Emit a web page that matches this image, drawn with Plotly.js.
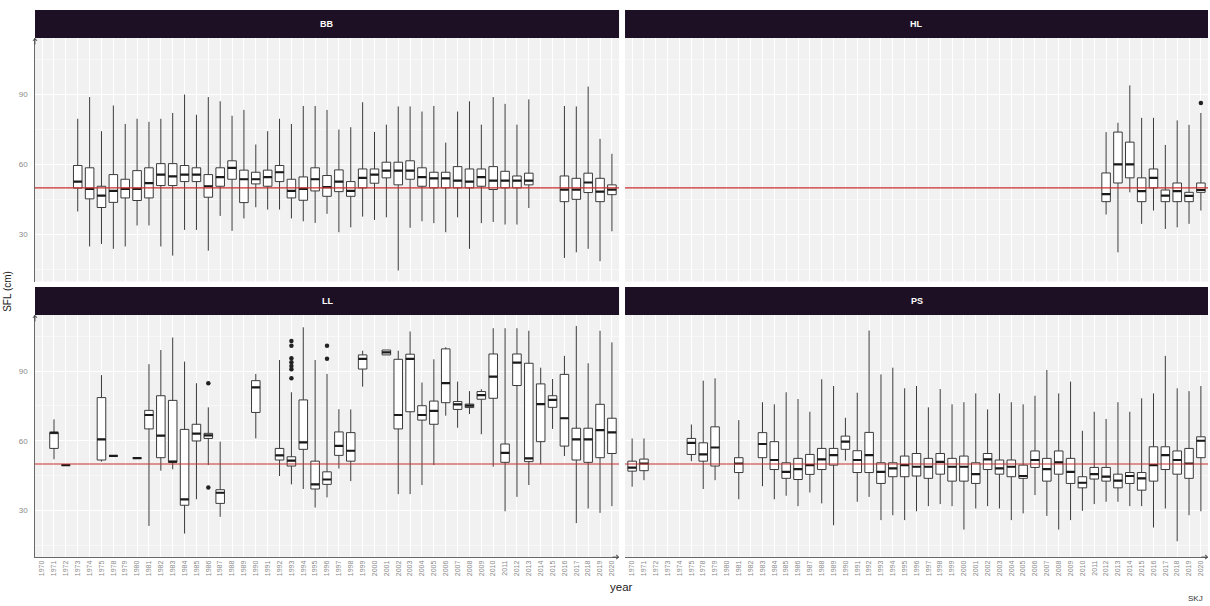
<!DOCTYPE html>
<html><head><meta charset="utf-8">
<script src="https://cdn.plot.ly/plotly-3.0.1.min.js"></script>
<style>html,body{margin:0;padding:0;background:#fff}#chart{width:1210px;height:606px}</style>
</head><body><div id="chart"></div>
<script>
// ---- categories ----
const allYears = [1970,1971,1972,1973,1974,1975,1978,1979,1980,1981,1982,1983,1984,1985,1986,1987,1988,1989,1990,
  1991,1992,1993,1994,1995,1996,1997,1998,1999,2000,2001,2002,2003,2004,2005,2006,2007,2008,2009,2010,
  2011,2012,2013,2014,2015,2016,2017,2018,2019,2020];
const refLine = 50;
const panelNames = ['BB','HL','LL','PS'];

// ---- BB ----
const bbYears = [1973,1974,1975,1978,1979,1980,1981,1982,1983,1984,1985,1986,1987,1988,1989,1990,1991,1992,1993,1994,1995,
  1996,1997,1998,1999,2000,2001,2002,2003,2004,2005,2006,2007,2008,2009,2010,2011,2012,2013,2016,2017,2018,2019,2020];
const bbUpper = [79.6,88.9,74.3,85.3,77.4,79.6,78.3,79.6,82.1,90.0,81.3,88.9,87.1,80.9,83.4,68.6,74.3,79.6,77.4,85.1,85.1,
  83.4,75.0,76.0,86.7,74.0,77.1,84.9,84.9,82.7,85.1,69.4,82.7,87.1,77.1,88.9,86.0,77.1,87.9,85.1,84.9,93.4,71.0,64.6];
const bbQ3 = [59.6,58.6,50.7,55.7,53.7,57.4,58.6,60.4,60.4,59.6,58.6,55.7,58.6,61.6,57.6,56.7,57.6,59.6,53.7,54.7,58.6,
  55.3,57.7,52.7,58.1,58.1,61.0,61.0,61.6,58.6,56.7,56.7,59.1,58.1,58.1,59.1,57.1,55.1,56.3,55.1,54.1,56.3,54.1,51.3];
const bbMedian = [52.7,49.6,46.7,48.7,49.6,49.6,52.0,55.7,54.9,55.7,55.7,50.7,54.6,58.6,53.7,53.7,54.6,56.7,48.7,49.6,53.7,
  50.3,52.7,48.7,54.3,55.7,57.4,57.4,57.4,54.6,54.1,54.1,53.1,52.7,54.6,53.1,53.1,53.1,53.1,49.3,49.3,52.3,48.4,49.3];
const bbQ1 = [49.9,45.3,41.6,43.8,45.7,44.6,45.7,51.0,51.0,52.7,52.7,46.0,50.7,53.7,43.7,51.7,50.7,52.7,45.7,44.7,48.7,
  46.4,48.4,46.4,50.0,52.0,54.3,51.3,53.7,50.7,50.0,50.0,50.0,50.0,50.7,49.3,50.0,50.0,51.3,44.1,45.1,48.0,44.1,47.1];
const bbLower = [39.9,24.9,26.0,23.9,24.9,33.9,33.9,24.9,21.0,32.0,32.0,23.1,38.0,31.6,36.9,41.7,40.7,40.7,36.9,35.7,35.0,
  38.9,31.0,33.1,37.7,36.3,37.4,14.6,32.9,35.7,34.9,31.0,37.4,23.9,34.9,35.4,34.3,34.3,41.4,20.0,22.4,23.9,18.6,31.4];
const bbOutYears = [];
const bbOutValues = [];

// ---- HL ----
const hlYears = [2012,2013,2014,2015,2016,2017,2018,2019,2020];
const hlUpper = [73.9,77.9,93.9,80.0,80.0,68.4,78.9,77.0,82.1];
const hlQ3 = [56.4,73.9,69.6,54.3,58.1,49.1,52.1,48.1,52.1];
const hlMedian = [47.3,60.1,60.1,48.6,54.3,46.7,48.6,46.6,49.1];
const hlQ1 = [44.1,52.1,54.3,44.1,50.0,44.1,44.1,44.1,48.1];
const hlLower = [38.6,22.4,48.1,34.6,40.3,32.4,33.1,34.6,40.3];
const hlOutYears = [2020];
const hlOutValues = [86.4];

// ---- LL ----
const llYears = [1971,1972,1975,1978,1980,1981,1982,1983,1984,1985,1986,1987,1990,1992,1993,1994,1995,1996,1997,1998,1999,
  2001,2002,2003,2004,2005,2006,2007,2008,2009,2010,2011,2012,2013,2014,2015,2016,2017,2018,2019,2020];
const llUpper = [69.2,49.5,88.3,53.5,52.5,93.0,99.1,104.5,94.1,84.8,74.4,59.6,88.8,94.8,80.9,108.9,94.8,88.8,73.6,73.5,98.8,
  99.1,98.8,107.1,85.1,95.1,100.3,85.5,81.4,82.2,108.5,108.5,108.5,107.4,91.5,86.6,96.6,109.5,93.4,107.4,102.4];
const llQ3 = [63.5,49.5,78.6,53.5,52.5,73.1,79.4,77.4,64.9,67.1,63.2,38.9,85.9,56.7,53.1,77.6,51.2,46.6,63.8,63.5,97.0,
  99.1,95.1,97.3,75.1,77.1,99.6,76.9,75.8,81.2,97.4,58.6,97.4,93.4,84.5,79.4,88.6,65.4,65.4,75.7,69.7];
const llMedian = [63.5,49.5,60.6,53.5,52.5,71.1,62.2,51.0,34.7,63.1,62.3,37.6,83.0,53.7,51.4,59.3,41.2,43.3,57.8,55.7,95.3,
  98.1,71.1,95.3,71.1,72.9,84.8,75.7,75.1,79.7,87.6,54.8,93.7,52.4,75.8,77.6,69.7,60.6,60.6,64.6,63.6];
const llQ1 = [56.7,49.5,51.7,53.5,52.5,65.1,52.7,50.7,32.2,59.9,61.0,33.0,72.2,51.7,49.1,56.3,39.2,41.2,53.7,51.2,90.9,
  97.0,65.1,72.5,68.9,67.1,76.4,73.5,74.3,77.9,78.3,50.7,83.8,51.0,59.6,74.4,57.7,51.7,50.7,52.7,54.5];
const llLower = [52.0,49.5,51.0,53.5,52.5,23.3,47.1,47.7,20.0,34.8,49.5,27.2,61.0,44.8,41.2,39.2,31.2,35.6,48.0,42.6,83.3,
  97.0,37.0,37.0,40.9,49.5,70.8,65.6,71.5,62.8,48.8,29.6,35.8,40.9,49.8,65.1,53.4,24.5,30.8,28.9,31.8];
const llOutYears = [1986,1986,1993,1993,1993,1993,1993,1993,1993,1996,1996];
const llOutValues = [84.8,39.9,103.0,100.9,95.6,93.8,92.2,90.8,86.9,100.9,95.3];

// ---- PS ----
const psYears = [1970,1971,1975,1978,1979,1981,1983,1984,1985,1986,1987,1988,1989,1990,1991,1992,1993,1994,1995,
  1996,1997,1998,1999,2000,2001,2002,2003,2004,2005,2006,2007,2008,2009,2010,2011,2012,2013,2014,2015,2016,2017,2018,2019,2020];
const psUpper = [61.0,61.0,67.0,85.9,86.9,68.9,76.6,75.7,80.9,78.0,72.5,86.5,83.6,69.9,80.7,107.5,88.6,91.5,82.6,
  83.6,74.4,82.3,75.7,76.6,80.4,73.5,80.4,76.6,75.7,79.4,90.5,80.4,85.5,64.3,72.5,69.4,76.6,72.5,78.3,80.4,96.6,82.6,81.4,83.6];
const psQ3 = [51.2,52.1,61.0,59.1,66.0,52.7,63.5,59.6,50.5,52.4,54.1,56.7,56.7,62.0,55.7,63.6,50.5,50.5,53.4,
  54.5,52.4,54.5,52.4,53.4,50.5,54.5,51.7,51.7,49.5,55.6,52.4,55.6,52.4,44.5,48.5,48.5,45.6,46.3,46.3,57.4,57.4,55.6,56.7,61.7];
const psMedian = [48.4,50.2,59.1,54.1,57.1,50.2,58.6,51.7,46.6,47.8,49.5,52.0,53.8,59.6,51.7,53.8,46.6,48.1,49.5,
  48.8,48.8,50.9,48.8,48.8,45.6,52.0,48.1,48.8,44.8,51.7,47.8,50.7,46.6,41.9,45.6,44.5,42.8,44.8,43.8,49.5,53.8,51.7,50.2,60.0];
const psQ1 = [46.9,47.1,54.1,51.2,49.1,46.3,52.7,47.6,43.8,43.3,45.5,47.6,49.5,56.3,46.3,46.3,41.6,44.5,44.5,
  44.8,43.8,45.6,42.6,42.6,41.6,47.6,45.6,44.5,43.8,48.5,42.6,45.6,41.6,39.7,43.5,42.6,39.7,41.6,38.7,42.6,47.6,45.6,43.8,52.7];
const psLower = [40.2,43.0,51.2,39.2,43.0,34.8,40.4,34.8,36.3,31.8,37.7,33.0,23.6,51.4,33.7,35.8,25.8,27.9,25.8,
  29.6,31.8,32.7,31.8,21.7,30.8,31.8,30.8,25.8,28.7,36.6,27.6,21.7,25.8,29.8,32.7,33.7,33.7,31.8,31.8,22.6,30.8,16.7,27.9,29.6];
const psOutYears = [];
const psOutValues = [];

// ---- build ----
const panels = [
  {name: panelNames[0], years: bbYears, up: bbUpper, q3: bbQ3, med: bbMedian, q1: bbQ1, lo: bbLower, oy: bbOutYears, ov: bbOutValues},
  {name: panelNames[1], years: hlYears, up: hlUpper, q3: hlQ3, med: hlMedian, q1: hlQ1, lo: hlLower, oy: hlOutYears, ov: hlOutValues},
  {name: panelNames[2], years: llYears, up: llUpper, q3: llQ3, med: llMedian, q1: llQ1, lo: llLower, oy: llOutYears, ov: llOutValues},
  {name: panelNames[3], years: psYears, up: psUpper, q3: psQ3, med: psMedian, q1: psQ1, lo: psLower, oy: psOutYears, ov: psOutValues}
];
const cats = allYears.map(String);
const axSuffix = ['', '2', '3', '4'];
const traces = [];
panels.forEach((p, i) => {
  const xa = 'x' + axSuffix[i], ya = 'y' + axSuffix[i];
  const xs = p.years.map(String);
  // invisible trace registering every category
  traces.push({type: 'scatter', mode: 'markers', x: cats, y: cats.map(() => refLine), xaxis: xa, yaxis: ya,
    marker: {opacity: 0, size: 1}, hoverinfo: 'skip', showlegend: false});
  traces.push({type: 'box', x: xs, q1: p.q1, median: p.med, q3: p.q3, lowerfence: p.lo, upperfence: p.up,
    xaxis: xa, yaxis: ya, width: 0.72, whiskerwidth: 0, boxpoints: false, fillcolor: '#ffffff',
    line: {color: '#3a3a3a', width: 1}, hoverinfo: 'skip', showlegend: false});
  traces.push({type: 'box', x: xs, q1: p.med, median: p.med, q3: p.med, lowerfence: p.med, upperfence: p.med,
    xaxis: xa, yaxis: ya, width: 0.72, whiskerwidth: 0, boxpoints: false, fillcolor: 'rgba(0,0,0,0)',
    line: {color: '#1a1a1a', width: 2.2}, hoverinfo: 'skip', showlegend: false});
  if (p.oy.length) {
    traces.push({type: 'scatter', mode: 'markers', x: p.oy.map(String), y: p.ov, xaxis: xa, yaxis: ya,
      marker: {color: '#222', size: 4.5}, hoverinfo: 'skip', showlegend: false});
  }
});

const X_L = [0, 0.4979], X_R = [0.503, 1];
const Y_T = [0.5308, 1], Y_B = [0, 0.4663];
const STRIP_T = [1, 1.054], STRIP_B = [0.4663, 0.5202];
const yRange = [9.9, 114.2];

function xAxis(domain, anchor, labels, line) {
  return {type: 'category', categoryorder: 'array', categoryarray: cats, range: [-0.6, 48.6],
    domain: domain, anchor: anchor, tickmode: 'array', tickvals: cats, ticktext: cats,
    showticklabels: labels, tickangle: -90, tickfont: {size: 7, color: '#8a8a8a'}, ticks: '',
    showgrid: true, gridcolor: '#ffffff', gridwidth: 1, zeroline: false,
    showline: line, linecolor: '#444', linewidth: 0.8, fixedrange: true};
}
function yAxis(domain, anchor, labels, line) {
  return {range: yRange, domain: domain, anchor: anchor, tickmode: 'array', tickvals: [30, 60, 90],
    showticklabels: labels, tickfont: {size: 8, color: '#8a8a8a'}, ticks: '', ticklabelstandoff: 5,
    showgrid: true, gridcolor: '#ffffff', gridwidth: 1.1, zeroline: false,
    minor: {tickvals: [15, 45, 75, 105], showgrid: true, gridcolor: '#ffffff', gridwidth: 0.5, ticks: ''},
    showline: line, linecolor: '#444', linewidth: 0.8, fixedrange: true};
}

const stripColor = '#1e1024';
const shapes = [];
const annotations = [];
const stripDefs = [[X_L, STRIP_T], [X_R, STRIP_T], [X_L, STRIP_B], [X_R, STRIP_B]];
stripDefs.forEach((s, i) => {
  shapes.push({type: 'rect', xref: 'paper', yref: 'paper', x0: s[0][0], x1: s[0][1], y0: s[1][0], y1: s[1][1],
    fillcolor: stripColor, line: {width: 0}, layer: 'below'});
  annotations.push({xref: 'paper', yref: 'paper', x: (s[0][0] + s[0][1]) / 2, y: (s[1][0] + s[1][1]) / 2,
    text: '<b>' + panelNames[i] + '</b>', showarrow: false, font: {size: 9, color: '#ffffff'},
    xanchor: 'center', yanchor: 'middle'});
  shapes.push({type: 'line', xref: 'x' + axSuffix[i] + ' domain', yref: 'y' + axSuffix[i],
    x0: 0, x1: 1, y0: refLine, y1: refLine, line: {color: '#cc2f2f', width: 1.1}, layer: 'above'});
});
// axis arrows
const arrow = {text: '', showarrow: true, arrowhead: 4, arrowsize: 1, arrowwidth: 0.8, arrowcolor: '#444',
  xref: 'paper', yref: 'paper'};
annotations.push(Object.assign({}, arrow, {x: 0, y: Y_T[1], ax: 0, ay: 8}));
annotations.push(Object.assign({}, arrow, {x: 0, y: Y_B[1], ax: 0, ay: 8}));
annotations.push(Object.assign({}, arrow, {x: X_L[1], y: 0, ax: -8, ay: 0}));
annotations.push(Object.assign({}, arrow, {x: X_R[1], y: 0, ax: -8, ay: 0}));
// titles
annotations.push({xref: 'paper', yref: 'paper', x: -0.023, y: 0.511, text: 'SFL (cm)', textangle: -90,
  showarrow: false, font: {size: 10, color: '#222'}, xanchor: 'center', yanchor: 'middle'});
annotations.push({xref: 'paper', yref: 'paper', x: 0.5, y: -0.058, text: 'year', showarrow: false,
  font: {size: 11.5, color: '#222'}, xanchor: 'center', yanchor: 'middle'});
annotations.push({xref: 'paper', yref: 'paper', x: 0.989, y: -0.079, text: 'SKJ', showarrow: false,
  font: {size: 8, color: '#333'}, xanchor: 'center', yanchor: 'middle'});

const layout = {
  width: 1210, height: 606,
  margin: {l: 35, r: 2, t: 38, b: 49},
  paper_bgcolor: '#ffffff', plot_bgcolor: '#f1f1f1',
  font: {family: 'Liberation Sans, Arial, sans-serif', color: '#333'},
  showlegend: false, boxmode: 'overlay',
  xaxis: xAxis(X_L, 'y', false, false),
  yaxis: yAxis(Y_T, 'x', true, true),
  xaxis2: xAxis(X_R, 'y2', false, false),
  yaxis2: yAxis(Y_T, 'x2', false, false),
  xaxis3: xAxis(X_L, 'y3', true, true),
  yaxis3: yAxis(Y_B, 'x3', true, true),
  xaxis4: xAxis(X_R, 'y4', true, true),
  yaxis4: yAxis(Y_B, 'x4', false, false),
  shapes: shapes,
  annotations: annotations
};

Plotly.newPlot('chart', traces, layout, {displayModeBar: false, staticPlot: true});
</script>
</body></html>
